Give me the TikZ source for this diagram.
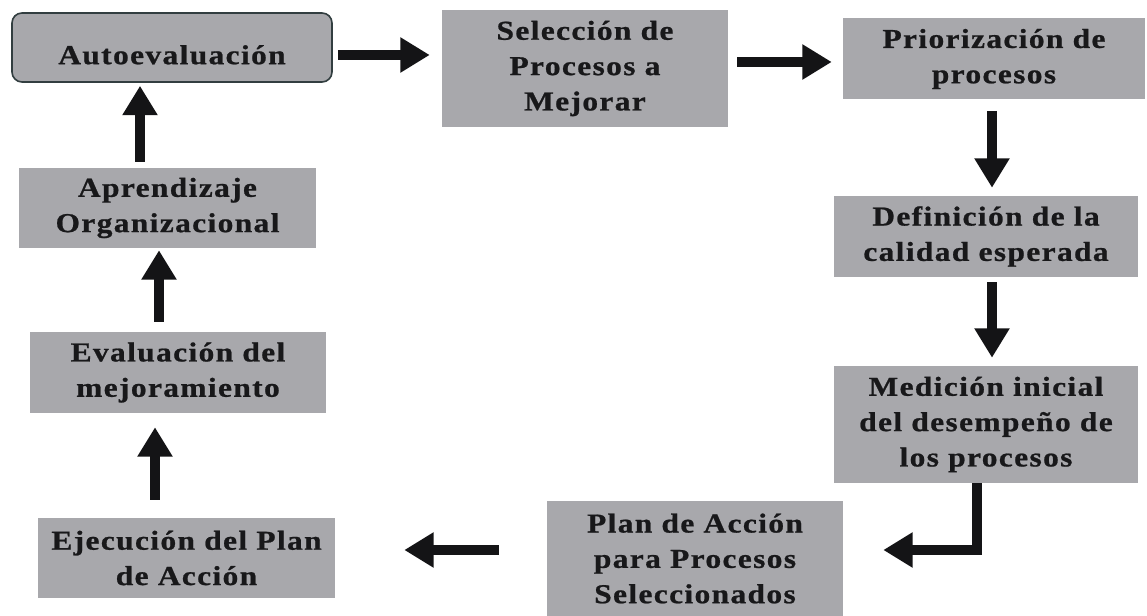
\documentclass[tikz,border=0pt]{standalone}
\usepackage{fontspec}
\setmainfont{Liberation Serif}[FakeStretch=1.15, LetterSpace=5, BoldFeatures={FakeBold=0.8}]
\usetikzlibrary{arrows.meta,calc}
\definecolor{boxgray}{RGB}{168,168,172}
\definecolor{txt}{RGB}{24,24,26}
\definecolor{arrowblack}{RGB}{20,20,22}
\definecolor{rim}{RGB}{50,62,64}
\begin{document}
\begin{tikzpicture}[x=0.75pt,y=-0.75pt,
  box/.style={fill=boxgray, draw=none, align=center, text=txt,
    font=\bfseries\fontsize{20.5}{26.5}\selectfont, inner sep=0pt},
  arr/.style={draw=arrowblack, line width=8pt, line join=miter,
    -{Triangle[length=22pt,width=25pt]}},
]
\useasboundingbox (0,0) rectangle (1147,616);
\node[box, draw=rim, line width=1.2pt, rounded corners=7.5pt,
  minimum width=240pt, minimum height=51.75pt] (auto) at (172,47.5)
  {\raisebox{-5.5pt}[\height][\depth]{Autoevaluación}};
\node[box, minimum width=214.5pt, minimum height=87.75pt] (sel) at (585,68.5)
  {Selección de\\Procesos a\\Mejorar};
\node[box, minimum width=226.5pt, minimum height=60.75pt] (prior) at (994,59)
  {Priorización de\\procesos};
\node[box, minimum width=228pt, minimum height=60.75pt] (def) at (986,236.5)
  {Definición de la\\calidad esperada};
\node[box, minimum width=228pt, minimum height=87.75pt] (med) at (986,424.5)
  {Medición inicial\\del desempeño de\\los procesos};
\node[box, minimum width=222pt, minimum height=86.25pt] (plan) at (695,558.5)
  {Plan de Acción\\para Procesos\\Seleccionados};
\node[box, minimum width=222.75pt, minimum height=60pt] (ejec) at (186.5,558)
  {Ejecución del Plan\\de Acción};
\node[box, minimum width=222pt, minimum height=60.75pt] (eval) at (178,372.5)
  {Evaluación del\\mejoramiento};
\node[box, minimum width=222.75pt, minimum height=60pt] (aprend) at (167.5,208)
  {Aprendizaje\\Organizacional};

\draw[arr] ($(auto.east)+(5,7.5)$) -- ($(sel.west)+(-12,-13.5)$);
\draw[arr] ($(sel.east)+(9,-6.5)$) -- ($(prior.west)+(-11,3)$);
\draw[arr] ($(prior.south)+(-2,11)$) -- ($(def.north)+(6,-8)$);
\draw[arr] ($(def.south)+(6,5)$) -- ($(med.north)+(6,-8)$);
\draw[arr] ($(med.south)+(-9,0)$) |- ($(plan.east)+(40,-8.5)$);
\draw[arr] ($(plan.west)+(-48,-8.5)$) -- ($(ejec.east)+(69,-8)$);
\draw[arr] ($(ejec.north)+(-31.5,-18)$) -- ($(eval.south)+(-23,14)$);
\draw[arr] ($(eval.north)+(-19,-10)$) -- ($(aprend.south)+(-8.5,2)$);
\draw[arr] ($(aprend.north)+(-27.5,-6)$) -- ($(auto.south)+(-32,3)$);
\end{tikzpicture}
\end{document}
